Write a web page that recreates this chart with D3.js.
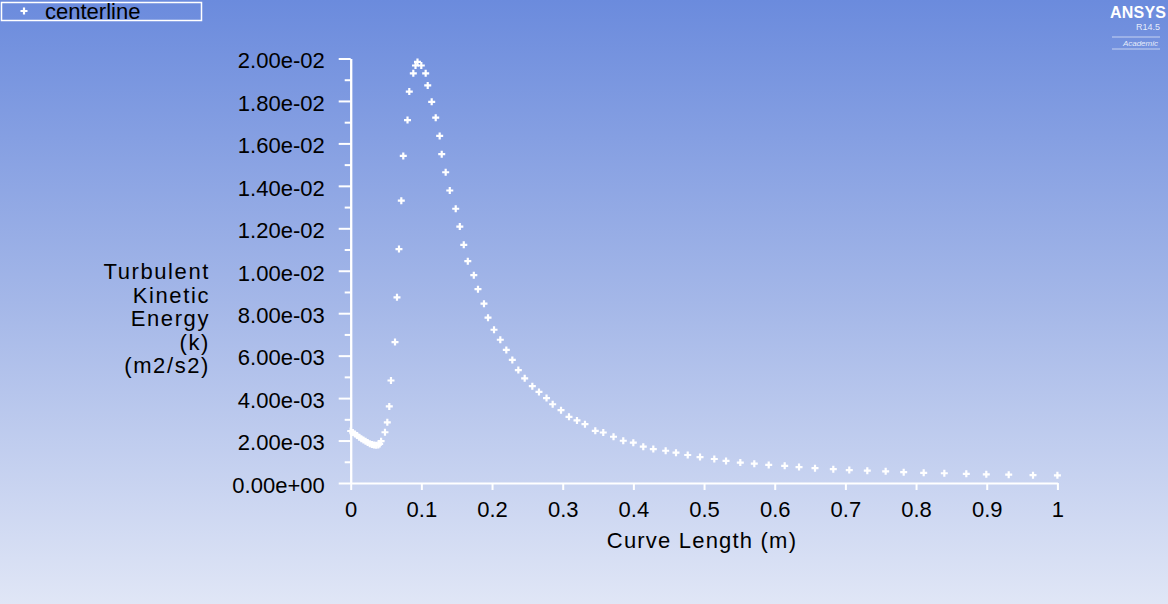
<!DOCTYPE html>
<html>
<head>
<meta charset="utf-8">
<script src="https://cdn.jsdelivr.net/npm/d3@7"></script>
<style>
  body { margin: 0; background: #fff; }
  svg text { font-family: "Liberation Sans", Arial, sans-serif; }
</style>
</head>
<body>
<div id="chart"></div>
<script>
// curve length (m) along the centerline
var curveLength = [
  0.000, 0.003, 0.006, 0.009, 0.012, 0.015, 0.018, 0.021, 0.024, 0.027,
  0.030, 0.033, 0.036, 0.039, 0.041, 0.043,
  0.0485, 0.0518, 0.0546, 0.0570, 0.0627, 0.0655, 0.0683, 0.0716, 0.0744, 0.0804,
  0.0829, 0.0886, 0.0917, 0.0945, 0.0999, 0.1061, 0.1090, 0.1146, 0.1203, 0.1259,
  0.1288, 0.1344, 0.1402, 0.1486, 0.1544, 0.1600, 0.1657, 0.1742, 0.1801, 0.1886,
  0.1943, 0.2028, 0.2117, 0.2202, 0.2287, 0.2372, 0.2462, 0.2570, 0.2664, 0.2771,
  0.2858, 0.2976, 0.3089, 0.3202, 0.3315, 0.3461, 0.3574, 0.3719, 0.3857, 0.3999,
  0.4140, 0.4282, 0.4457, 0.4603, 0.4769, 0.4943, 0.5145, 0.5311, 0.5513, 0.5711,
  0.5915, 0.6141, 0.6344, 0.6570, 0.6829, 0.7055, 0.7310, 0.7570, 0.7825, 0.8108,
  0.8400, 0.8711, 0.8994, 0.9311, 0.9655, 1.0000
];
// turbulent kinetic energy k (m2/s2)
var tke = [
  2.45e-3, 2.38e-3, 2.31e-3, 2.24e-3, 2.16e-3, 2.09e-3, 2.03e-3, 1.97e-3, 1.91e-3, 1.85e-3,
  1.81e-3, 1.79e-3, 1.78e-3, 1.79e-3, 1.84e-3, 1.97e-3,
  2.39e-3, 2.86e-3, 3.61e-3, 4.83e-3, 6.64e-3, 8.75e-3, 1.102e-2, 1.330e-2, 1.541e-2, 1.710e-2,
  1.844e-2, 1.930e-2, 1.967e-2, 1.984e-2, 1.967e-2, 1.930e-2, 1.873e-2, 1.796e-2, 1.721e-2, 1.635e-2,
  1.549e-2, 1.464e-2, 1.378e-2, 1.292e-2, 1.208e-2, 1.122e-2, 1.045e-2, 9.79e-3, 9.13e-3, 8.45e-3,
  7.79e-3, 7.22e-3, 6.75e-3, 6.27e-3, 5.80e-3, 5.32e-3, 4.93e-3, 4.56e-3, 4.29e-3, 4.00e-3,
  3.71e-3, 3.43e-3, 3.12e-3, 2.95e-3, 2.77e-3, 2.46e-3, 2.38e-3, 2.18e-3, 1.99e-3, 1.90e-3,
  1.71e-3, 1.60e-3, 1.52e-3, 1.43e-3, 1.32e-3, 1.22e-3, 1.13e-3, 1.04e-3, 9.6e-4, 9.1e-4,
  8.5e-4, 8.1e-4, 7.5e-4, 7.0e-4, 6.5e-4, 6.1e-4, 5.8e-4, 5.5e-4, 5.1e-4, 4.8e-4,
  4.6e-4, 4.3e-4, 4.1e-4, 3.9e-4, 3.7e-4, 3.6e-4
];

var xTickValues = [0, 0.1, 0.2, 0.3, 0.4, 0.5, 0.6, 0.7, 0.8, 0.9, 1];
var xTickLabels = ["0", "0.1", "0.2", "0.3", "0.4", "0.5", "0.6", "0.7", "0.8", "0.9", "1"];
var yTickValues = [0, 0.002, 0.004, 0.006, 0.008, 0.010, 0.012, 0.014, 0.016, 0.018, 0.020];
var yTickLabels = ["0.00e+00", "2.00e-03", "4.00e-03", "6.00e-03", "8.00e-03", "1.00e-02",
                   "1.20e-02", "1.40e-02", "1.60e-02", "1.80e-02", "2.00e-02"];
var yMinorValues = [0.001, 0.003, 0.005, 0.007, 0.009, 0.011, 0.013, 0.015, 0.017, 0.019];
var yTitleLines = ["Turbulent", "Kinetic", "Energy", "(k)", "(m2/s2)"];
var seriesName = "centerline";

var W = 1168, H = 604;

var svg = d3.select("#chart").append("svg")
    .attr("width", W).attr("height", H);

// background gradient
var grad = svg.append("defs").append("linearGradient")
    .attr("id", "bg").attr("x1", 0).attr("y1", 0).attr("x2", 0).attr("y2", 1);
grad.append("stop").attr("offset", "0%").attr("stop-color", "#6b8bdd");
grad.append("stop").attr("offset", "50%").attr("stop-color", "#a4b7e8");
grad.append("stop").attr("offset", "100%").attr("stop-color", "#e0e6f6");
svg.append("rect").attr("width", W).attr("height", H).attr("fill", "url(#bg)");

var x = d3.scaleLinear().domain([0, 1]).range([350.7, 1057.4]);
var y = d3.scaleLinear().domain([0, 0.02]).range([483, 58.5]);

// x axis
var gx = svg.append("g").attr("transform", "translate(0,483)")
    .call(d3.axisBottom(x).tickValues(xTickValues)
        .tickFormat(function(d, i) { return xTickLabels[i]; })
        .tickSize(7).tickSizeOuter(0).tickPadding(11));

// y axis, minor ticks first
svg.append("g").attr("transform", "translate(350.7,0)")
    .call(d3.axisLeft(y).tickValues(yMinorValues).tickFormat("").tickSize(6).tickSizeOuter(0));
var gy = svg.append("g").attr("transform", "translate(350.7,0)")
    .call(d3.axisLeft(y).tickValues(yTickValues)
        .tickFormat(function(d, i) { return yTickLabels[i]; })
        .tickSize(12).tickSizeOuter(0).tickPadding(14));

svg.selectAll(".domain, .tick line").attr("stroke", "#fff").attr("stroke-width", 2);
svg.selectAll(".tick text").attr("fill", "#000")
    .style("font-family", "'Liberation Sans', Arial, sans-serif").style("font-size", "22px");
gy.selectAll(".tick text").attr("dy", "0.42em");

// axis titles
svg.append("text").attr("x", 702).attr("y", 548).attr("text-anchor", "middle")
    .style("font-size", "22px").style("letter-spacing", "1.2px").attr("fill", "#000")
    .text("Curve Length (m)");
svg.append("g").selectAll("text").data(yTitleLines).enter().append("text")
    .attr("x", 210).attr("y", function(d, i) { return 279 + i * 23.6; })
    .attr("text-anchor", "end").style("font-size", "22px").style("letter-spacing", "1.6px")
    .attr("fill", "#000")
    .text(function(d) { return d; });

// markers
var plus = "M-3.5,0H3.5M0,-3.5V3.5";
svg.append("g").selectAll("path").data(d3.range(curveLength.length)).enter().append("path")
    .attr("d", plus)
    .attr("transform", function(i) { return "translate(" + x(curveLength[i]) + "," + y(tke[i]) + ")"; })
    .attr("stroke", "#fff").attr("stroke-width", 2.2).attr("fill", "none");

// legend
var lg = svg.append("g");
lg.append("rect").attr("x", 1.5).attr("y", 2.5).attr("width", 200).attr("height", 18)
    .attr("fill", "none").attr("stroke", "#fff").attr("stroke-width", 1.5);
lg.append("path").attr("d", plus).attr("transform", "translate(24,11)")
    .attr("stroke", "#fff").attr("stroke-width", 2.2);
lg.append("text").attr("x", 45).attr("y", 19).style("font-size", "22px").attr("fill", "#000")
    .text(seriesName);

// ANSYS logo
var logo = svg.append("g").attr("fill", "#fff");
logo.append("text").attr("x", 1166).attr("y", 17.5).attr("text-anchor", "end")
    .style("font-size", "16px").style("font-weight", "bold").attr("textLength", 56)
    .text("ANSYS");
logo.append("text").attr("x", 1160).attr("y", 29.5).attr("text-anchor", "end")
    .style("font-size", "9px").attr("fill-opacity", 0.85).text("R14.5");
logo.append("line").attr("x1", 1112).attr("x2", 1160).attr("y1", 37).attr("y2", 37)
    .attr("stroke", "#fff").attr("stroke-opacity", 0.6);
logo.append("text").attr("x", 1158).attr("y", 45.5).attr("text-anchor", "end")
    .style("font-size", "8px").style("font-style", "italic").attr("fill-opacity", 0.85).text("Academic");
logo.append("line").attr("x1", 1112).attr("x2", 1160).attr("y1", 49).attr("y2", 49)
    .attr("stroke", "#fff").attr("stroke-opacity", 0.6);
</script>
</body>
</html>
